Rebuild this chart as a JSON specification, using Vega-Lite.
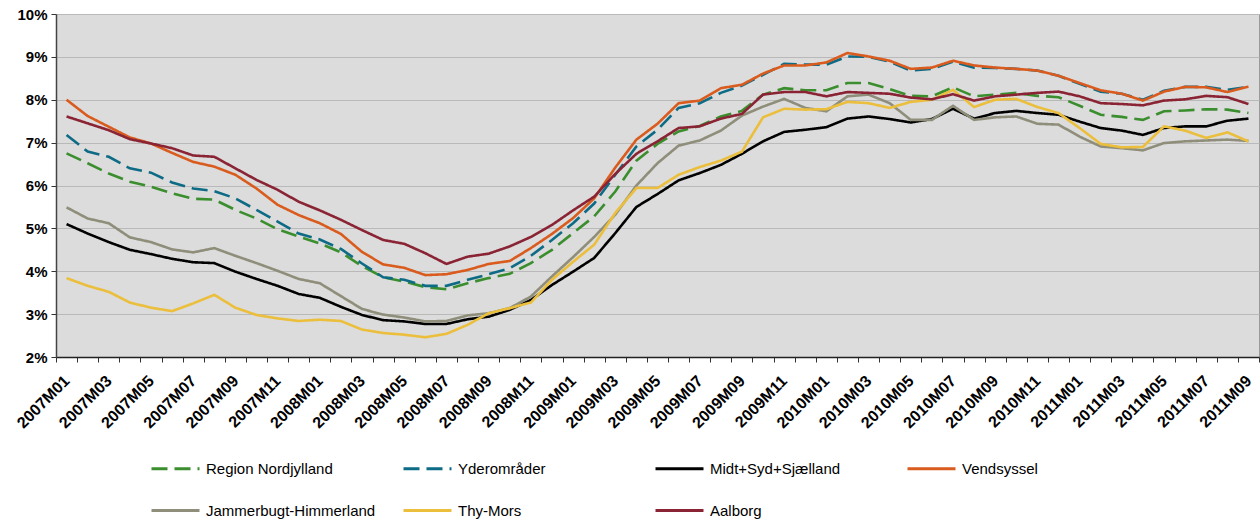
{
  "$schema": "https://vega.github.io/schema/vega-lite/v6.json",
  "width": 1203,
  "height": 343,
  "autosize": {"type": "none"},
  "padding": {"left": 56, "top": 14, "right": 1, "bottom": 167},
  "background": "white",
  "config": {
    "font": "Liberation Sans",
    "view": {"fill": "#DCDCDC", "stroke": "#9A9A9A", "strokeWidth": 1},
    "legend": {
      "orient": "none",
      "direction": "horizontal",
      "legendX": 94,
      "legendY": 429,
      "columns": 4,
      "gridAlign": "all",
      "columnPadding": 21,
      "rowPadding": 8,
      "padding": 0,
      "symbolType": "stroke",
      "symbolSize": 2304,
      "symbolStrokeWidth": 3,
      "labelFont": "Liberation Sans",
      "labelFontSize": 15,
      "labelColor": "#000000",
      "labelOffset": 5,
      "labelLimit": 300,
      "title": null
    }
  },
  "data": {
    "values": [
      {"m": "2007M01", "Region Nordjylland": 6.75, "Yderområder": 7.18, "Midt+Syd+Sjælland": 5.10, "Vendsyssel": 8.00, "Jammerbugt-Himmerland": 5.49, "Thy-Mors": 3.84, "Aalborg": 7.61},
      {"m": "2007M02", "Region Nordjylland": 6.52, "Yderområder": 6.79, "Midt+Syd+Sjælland": 4.88, "Vendsyssel": 7.62, "Jammerbugt-Himmerland": 5.23, "Thy-Mors": 3.66, "Aalborg": 7.45},
      {"m": "2007M03", "Region Nordjylland": 6.28, "Yderområder": 6.67, "Midt+Syd+Sjælland": 4.68, "Vendsyssel": 7.37, "Jammerbugt-Himmerland": 5.12, "Thy-Mors": 3.52, "Aalborg": 7.29},
      {"m": "2007M04", "Region Nordjylland": 6.09, "Yderområder": 6.40, "Midt+Syd+Sjælland": 4.50, "Vendsyssel": 7.12, "Jammerbugt-Himmerland": 4.79, "Thy-Mors": 3.27, "Aalborg": 7.08},
      {"m": "2007M05", "Region Nordjylland": 5.97, "Yderområder": 6.30, "Midt+Syd+Sjælland": 4.40, "Vendsyssel": 6.98, "Jammerbugt-Himmerland": 4.68, "Thy-Mors": 3.15, "Aalborg": 6.98},
      {"m": "2007M06", "Region Nordjylland": 5.82, "Yderområder": 6.07, "Midt+Syd+Sjælland": 4.29, "Vendsyssel": 6.76, "Jammerbugt-Himmerland": 4.51, "Thy-Mors": 3.07, "Aalborg": 6.87},
      {"m": "2007M07", "Region Nordjylland": 5.69, "Yderområder": 5.93, "Midt+Syd+Sjælland": 4.21, "Vendsyssel": 6.55, "Jammerbugt-Himmerland": 4.44, "Thy-Mors": 3.25, "Aalborg": 6.70},
      {"m": "2007M08", "Region Nordjylland": 5.67, "Yderområder": 5.87, "Midt+Syd+Sjælland": 4.19, "Vendsyssel": 6.44, "Jammerbugt-Himmerland": 4.54, "Thy-Mors": 3.45, "Aalborg": 6.67},
      {"m": "2007M09", "Region Nordjylland": 5.43, "Yderområder": 5.70, "Midt+Syd+Sjælland": 3.99, "Vendsyssel": 6.25, "Jammerbugt-Himmerland": 4.36, "Thy-Mors": 3.15, "Aalborg": 6.40},
      {"m": "2007M10", "Region Nordjylland": 5.23, "Yderområder": 5.43, "Midt+Syd+Sjælland": 3.82, "Vendsyssel": 5.93, "Jammerbugt-Himmerland": 4.19, "Thy-Mors": 2.98, "Aalborg": 6.13},
      {"m": "2007M11", "Region Nordjylland": 4.98, "Yderområder": 5.16, "Midt+Syd+Sjælland": 3.66, "Vendsyssel": 5.55, "Jammerbugt-Himmerland": 4.01, "Thy-Mors": 2.90, "Aalborg": 5.90},
      {"m": "2007M12", "Region Nordjylland": 4.81, "Yderområder": 4.88, "Midt+Syd+Sjælland": 3.47, "Vendsyssel": 5.31, "Jammerbugt-Himmerland": 3.82, "Thy-Mors": 2.84, "Aalborg": 5.62},
      {"m": "2008M01", "Region Nordjylland": 4.65, "Yderområder": 4.74, "Midt+Syd+Sjælland": 3.38, "Vendsyssel": 5.12, "Jammerbugt-Himmerland": 3.72, "Thy-Mors": 2.87, "Aalborg": 5.42},
      {"m": "2008M02", "Region Nordjylland": 4.44, "Yderområder": 4.52, "Midt+Syd+Sjælland": 3.17, "Vendsyssel": 4.87, "Jammerbugt-Himmerland": 3.42, "Thy-Mors": 2.84, "Aalborg": 5.20},
      {"m": "2008M03", "Region Nordjylland": 4.12, "Yderområder": 4.18, "Midt+Syd+Sjælland": 2.98, "Vendsyssel": 4.45, "Jammerbugt-Himmerland": 3.12, "Thy-Mors": 2.64, "Aalborg": 4.96},
      {"m": "2008M04", "Region Nordjylland": 3.86, "Yderområder": 3.86, "Midt+Syd+Sjælland": 2.86, "Vendsyssel": 4.16, "Jammerbugt-Himmerland": 2.99, "Thy-Mors": 2.56, "Aalborg": 4.73},
      {"m": "2008M05", "Region Nordjylland": 3.76, "Yderområder": 3.80, "Midt+Syd+Sjælland": 2.83, "Vendsyssel": 4.08, "Jammerbugt-Himmerland": 2.92, "Thy-Mors": 2.52, "Aalborg": 4.64},
      {"m": "2008M06", "Region Nordjylland": 3.63, "Yderområder": 3.66, "Midt+Syd+Sjælland": 2.77, "Vendsyssel": 3.91, "Jammerbugt-Himmerland": 2.83, "Thy-Mors": 2.46, "Aalborg": 4.42},
      {"m": "2008M07", "Region Nordjylland": 3.58, "Yderområder": 3.66, "Midt+Syd+Sjælland": 2.77, "Vendsyssel": 3.93, "Jammerbugt-Himmerland": 2.84, "Thy-Mors": 2.54, "Aalborg": 4.17},
      {"m": "2008M08", "Region Nordjylland": 3.72, "Yderområder": 3.80, "Midt+Syd+Sjælland": 2.88, "Vendsyssel": 4.03, "Jammerbugt-Himmerland": 2.97, "Thy-Mors": 2.75, "Aalborg": 4.34},
      {"m": "2008M09", "Region Nordjylland": 3.84, "Yderområder": 3.93, "Midt+Syd+Sjælland": 2.94, "Vendsyssel": 4.17, "Jammerbugt-Himmerland": 3.02, "Thy-Mors": 3.02, "Aalborg": 4.41},
      {"m": "2008M10", "Region Nordjylland": 3.94, "Yderområder": 4.07, "Midt+Syd+Sjælland": 3.10, "Vendsyssel": 4.24, "Jammerbugt-Himmerland": 3.14, "Thy-Mors": 3.14, "Aalborg": 4.58},
      {"m": "2008M11", "Region Nordjylland": 4.19, "Yderområder": 4.36, "Midt+Syd+Sjælland": 3.33, "Vendsyssel": 4.54, "Jammerbugt-Himmerland": 3.41, "Thy-Mors": 3.27, "Aalborg": 4.80},
      {"m": "2008M12", "Region Nordjylland": 4.50, "Yderområder": 4.73, "Midt+Syd+Sjælland": 3.68, "Vendsyssel": 4.87, "Jammerbugt-Himmerland": 3.88, "Thy-Mors": 3.80, "Aalborg": 5.08},
      {"m": "2009M01", "Region Nordjylland": 4.89, "Yderområder": 5.12, "Midt+Syd+Sjælland": 3.99, "Vendsyssel": 5.24, "Jammerbugt-Himmerland": 4.33, "Thy-Mors": 4.22, "Aalborg": 5.42},
      {"m": "2009M02", "Region Nordjylland": 5.28, "Yderområder": 5.58, "Midt+Syd+Sjælland": 4.31, "Vendsyssel": 5.70, "Jammerbugt-Himmerland": 4.80, "Thy-Mors": 4.62, "Aalborg": 5.74},
      {"m": "2009M03", "Region Nordjylland": 5.86, "Yderområder": 6.25, "Midt+Syd+Sjælland": 4.89, "Vendsyssel": 6.42, "Jammerbugt-Himmerland": 5.32, "Thy-Mors": 5.36, "Aalborg": 6.27},
      {"m": "2009M04", "Region Nordjylland": 6.58, "Yderområder": 6.91, "Midt+Syd+Sjælland": 5.50, "Vendsyssel": 7.07, "Jammerbugt-Himmerland": 6.00, "Thy-Mors": 5.94, "Aalborg": 6.74},
      {"m": "2009M05", "Region Nordjylland": 6.97, "Yderområder": 7.30, "Midt+Syd+Sjælland": 5.80, "Vendsyssel": 7.44, "Jammerbugt-Himmerland": 6.52, "Thy-Mors": 5.94, "Aalborg": 7.03},
      {"m": "2009M06", "Region Nordjylland": 7.26, "Yderområder": 7.81, "Midt+Syd+Sjælland": 6.12, "Vendsyssel": 7.92, "Jammerbugt-Himmerland": 6.93, "Thy-Mors": 6.25, "Aalborg": 7.34},
      {"m": "2009M07", "Region Nordjylland": 7.39, "Yderområder": 7.92, "Midt+Syd+Sjælland": 6.29, "Vendsyssel": 7.98, "Jammerbugt-Himmerland": 7.05, "Thy-Mors": 6.43, "Aalborg": 7.38},
      {"m": "2009M08", "Region Nordjylland": 7.61, "Yderområder": 8.16, "Midt+Syd+Sjælland": 6.48, "Vendsyssel": 8.27, "Jammerbugt-Himmerland": 7.28, "Thy-Mors": 6.58, "Aalborg": 7.56},
      {"m": "2009M09", "Region Nordjylland": 7.74, "Yderområder": 8.33, "Midt+Syd+Sjælland": 6.74, "Vendsyssel": 8.35, "Jammerbugt-Himmerland": 7.63, "Thy-Mors": 6.79, "Aalborg": 7.67},
      {"m": "2009M10", "Region Nordjylland": 8.12, "Yderområder": 8.58, "Midt+Syd+Sjælland": 7.03, "Vendsyssel": 8.61, "Jammerbugt-Himmerland": 7.84, "Thy-Mors": 7.59, "Aalborg": 8.12},
      {"m": "2009M11", "Region Nordjylland": 8.27, "Yderområder": 8.84, "Midt+Syd+Sjælland": 7.25, "Vendsyssel": 8.80, "Jammerbugt-Himmerland": 8.02, "Thy-Mors": 7.79, "Aalborg": 8.18},
      {"m": "2009M12", "Region Nordjylland": 8.22, "Yderområder": 8.82, "Midt+Syd+Sjælland": 7.30, "Vendsyssel": 8.80, "Jammerbugt-Himmerland": 7.81, "Thy-Mors": 7.77, "Aalborg": 8.18},
      {"m": "2010M01", "Region Nordjylland": 8.22, "Yderområder": 8.82, "Midt+Syd+Sjælland": 7.36, "Vendsyssel": 8.87, "Jammerbugt-Himmerland": 7.73, "Thy-Mors": 7.78, "Aalborg": 8.08},
      {"m": "2010M02", "Region Nordjylland": 8.39, "Yderområder": 9.01, "Midt+Syd+Sjælland": 7.56, "Vendsyssel": 9.09, "Jammerbugt-Himmerland": 8.08, "Thy-Mors": 7.95, "Aalborg": 8.18},
      {"m": "2010M03", "Region Nordjylland": 8.39, "Yderområder": 9.00, "Midt+Syd+Sjælland": 7.61, "Vendsyssel": 9.01, "Jammerbugt-Himmerland": 8.12, "Thy-Mors": 7.92, "Aalborg": 8.16},
      {"m": "2010M04", "Region Nordjylland": 8.25, "Yderområder": 8.89, "Midt+Syd+Sjælland": 7.55, "Vendsyssel": 8.91, "Jammerbugt-Himmerland": 7.92, "Thy-Mors": 7.81, "Aalborg": 8.14},
      {"m": "2010M05", "Region Nordjylland": 8.09, "Yderområder": 8.68, "Midt+Syd+Sjælland": 7.47, "Vendsyssel": 8.72, "Jammerbugt-Himmerland": 7.53, "Thy-Mors": 7.95, "Aalborg": 8.05},
      {"m": "2010M06", "Region Nordjylland": 8.08, "Yderområder": 8.72, "Midt+Syd+Sjælland": 7.55, "Vendsyssel": 8.75, "Jammerbugt-Himmerland": 7.53, "Thy-Mors": 8.00, "Aalborg": 8.01},
      {"m": "2010M07", "Region Nordjylland": 8.29, "Yderområder": 8.89, "Midt+Syd+Sjælland": 7.79, "Vendsyssel": 8.91, "Jammerbugt-Himmerland": 7.86, "Thy-Mors": 8.23, "Aalborg": 8.13},
      {"m": "2010M08", "Region Nordjylland": 8.08, "Yderområder": 8.75, "Midt+Syd+Sjælland": 7.56, "Vendsyssel": 8.80, "Jammerbugt-Himmerland": 7.53, "Thy-Mors": 7.83, "Aalborg": 7.98},
      {"m": "2010M09", "Region Nordjylland": 8.12, "Yderområder": 8.74, "Midt+Syd+Sjælland": 7.69, "Vendsyssel": 8.75, "Jammerbugt-Himmerland": 7.59, "Thy-Mors": 8.00, "Aalborg": 8.08},
      {"m": "2010M10", "Region Nordjylland": 8.16, "Yderområder": 8.72, "Midt+Syd+Sjælland": 7.74, "Vendsyssel": 8.72, "Jammerbugt-Himmerland": 7.61, "Thy-Mors": 8.02, "Aalborg": 8.12},
      {"m": "2010M11", "Region Nordjylland": 8.09, "Yderområder": 8.68, "Midt+Syd+Sjælland": 7.69, "Vendsyssel": 8.68, "Jammerbugt-Himmerland": 7.44, "Thy-Mors": 7.83, "Aalborg": 8.16},
      {"m": "2010M12", "Region Nordjylland": 8.06, "Yderområder": 8.56, "Midt+Syd+Sjælland": 7.65, "Vendsyssel": 8.56, "Jammerbugt-Himmerland": 7.42, "Thy-Mors": 7.69, "Aalborg": 8.19},
      {"m": "2011M01", "Region Nordjylland": 7.86, "Yderområder": 8.37, "Midt+Syd+Sjælland": 7.49, "Vendsyssel": 8.39, "Jammerbugt-Himmerland": 7.14, "Thy-Mors": 7.34, "Aalborg": 8.08},
      {"m": "2011M02", "Region Nordjylland": 7.65, "Yderområder": 8.19, "Midt+Syd+Sjælland": 7.34, "Vendsyssel": 8.22, "Jammerbugt-Himmerland": 6.91, "Thy-Mors": 6.97, "Aalborg": 7.92},
      {"m": "2011M03", "Region Nordjylland": 7.60, "Yderområder": 8.14, "Midt+Syd+Sjælland": 7.28, "Vendsyssel": 8.14, "Jammerbugt-Himmerland": 6.87, "Thy-Mors": 6.89, "Aalborg": 7.90},
      {"m": "2011M04", "Region Nordjylland": 7.53, "Yderområder": 8.00, "Midt+Syd+Sjælland": 7.18, "Vendsyssel": 7.98, "Jammerbugt-Himmerland": 6.82, "Thy-Mors": 6.90, "Aalborg": 7.87},
      {"m": "2011M05", "Region Nordjylland": 7.73, "Yderområder": 8.21, "Midt+Syd+Sjælland": 7.34, "Vendsyssel": 8.19, "Jammerbugt-Himmerland": 6.99, "Thy-Mors": 7.38, "Aalborg": 7.98},
      {"m": "2011M06", "Region Nordjylland": 7.75, "Yderområder": 8.30, "Midt+Syd+Sjælland": 7.38, "Vendsyssel": 8.30, "Jammerbugt-Himmerland": 7.03, "Thy-Mors": 7.28, "Aalborg": 8.01},
      {"m": "2011M07", "Region Nordjylland": 7.78, "Yderområder": 8.30, "Midt+Syd+Sjælland": 7.38, "Vendsyssel": 8.29, "Jammerbugt-Himmerland": 7.05, "Thy-Mors": 7.11, "Aalborg": 8.09},
      {"m": "2011M08", "Region Nordjylland": 7.77, "Yderområder": 8.23, "Midt+Syd+Sjælland": 7.51, "Vendsyssel": 8.18, "Jammerbugt-Himmerland": 7.07, "Thy-Mors": 7.24, "Aalborg": 8.06},
      {"m": "2011M09", "Region Nordjylland": 7.69, "Yderområder": 8.30, "Midt+Syd+Sjælland": 7.56, "Vendsyssel": 8.31, "Jammerbugt-Himmerland": 7.04, "Thy-Mors": 7.03, "Aalborg": 7.90}
    ]
  },
  "transform": [
    {"fold": ["Region Nordjylland", "Yderområder", "Midt+Syd+Sjælland", "Vendsyssel", "Jammerbugt-Himmerland", "Thy-Mors", "Aalborg"], "as": ["s", "v"]}
  ],
  "mark": {"type": "line", "strokeWidth": 2.6, "interpolate": "linear"},
  "encoding": {
    "x": {
      "field": "m",
      "type": "ordinal",
      "sort": null,
      "bandPosition": 0.5,
      "scale": {"type": "band", "paddingInner": 0, "paddingOuter": 0},
      "axis": {
        "title": null,
        "tickBand": "extent",
        "labelExpr": "parseInt(substring(datum.value, 5, 7)) % 2 == 1 ? datum.value : ''",
        "labelAngle": -45,
        "labelAlign": "right",
        "labelBaseline": "middle",
        "labelFont": "Liberation Sans",
        "labelFontWeight": "bold",
        "labelFontSize": 16,
        "labelColor": "#000000",
        "labelPadding": 16,
        "labelOverlap": false,
        "tickSize": 5,
        "tickColor": "#333333",
        "domainColor": "#222222",
        "domainWidth": 1.5,
        "grid": false
      }
    },
    "y": {
      "field": "v",
      "type": "quantitative",
      "scale": {"domain": [2, 10], "nice": false, "zero": false},
      "axis": {
        "title": null,
        "values": [2, 3, 4, 5, 6, 7, 8, 9, 10],
        "labelExpr": "datum.value + '%'",
        "labelFont": "Liberation Sans",
        "labelFontWeight": "bold",
        "labelFontSize": 15,
        "labelColor": "#000000",
        "labelPadding": 4,
        "tickSize": 5,
        "tickColor": "#333333",
        "domainColor": "#444444",
        "domainWidth": 1.5,
        "grid": true,
        "gridColor": "#B9B9B9",
        "gridWidth": 1.2
      }
    },
    "color": {
      "field": "s",
      "type": "nominal",
      "sort": null,
      "scale": {
        "domain": ["Region Nordjylland", "Yderområder", "Midt+Syd+Sjælland", "Vendsyssel", "Jammerbugt-Himmerland", "Thy-Mors", "Aalborg"],
        "range": ["#3A8E2E", "#0E6B86", "#000000", "#D95B1E", "#8E8E7A", "#EBBE3C", "#8A2434"]
      },
      "legend": {"title": null}
    },
    "strokeDash": {
      "field": "s",
      "type": "nominal",
      "sort": null,
      "scale": {
        "domain": ["Region Nordjylland", "Yderområder", "Midt+Syd+Sjælland", "Vendsyssel", "Jammerbugt-Himmerland", "Thy-Mors", "Aalborg"],
        "range": [[16, 7], [16, 7], [1, 0], [1, 0], [1, 0], [1, 0], [1, 0]]
      },
      "legend": {"title": null}
    }
  }
}
